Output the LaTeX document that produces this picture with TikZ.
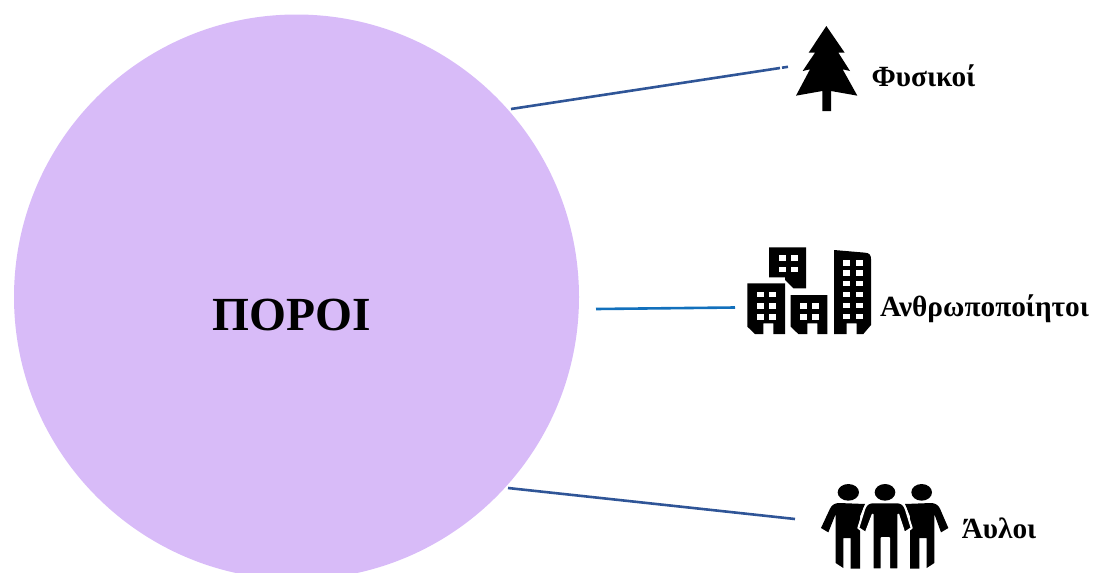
\documentclass[tikz,border=0pt]{standalone}
\usepackage{fontspec}
\setmainfont{Liberation Serif}
\definecolor{circfill}{HTML}{D8BBF8}
\definecolor{linkdark}{HTML}{2F5597}
\definecolor{linkblue}{HTML}{1270BC}
\tikzset{
  bubble/.style={circle,fill=circfill,minimum size=565pt,inner sep=0pt},
  title/.style={font=\bfseries\fontsize{47.5}{47.5}\selectfont,inner sep=0pt,anchor=center},
  tag/.style={font=\bfseries\fontsize{29.3}{29.3}\selectfont,inner sep=0pt,anchor=center},
  link/.style={line width=2.6pt,linkdark},
  icon/.style={fill=black,draw=none},
  pane/.style={fill=white,draw=none},
  zoomed/.style={x=0.33333pt,y=-0.33333pt},
  person/.style={fill=black,draw=white,line width=2pt,line join=round},
}
\newcommand{\panes}[2]{\foreach \py in {#2}{\foreach \px in {#1}{\fill[pane] (\px,\py) rectangle ++(21,17);}}}
\begin{document}
\begin{tikzpicture}[x=1pt,y=-1pt]
\useasboundingbox (0,0) rectangle (1093,573);
\clip (0,0) rectangle (1093,573);
\node[bubble] (poroi) at (296.5,297) {};
\node[title] (poroitext) at (291.5,315) {ΠΟΡΟΙ};
\node[tag] (fysikoi) at (923.5,76) {Φυσικοί};
\node[tag] (anthro) at (984.5,309) {Ανθρωποποίητοι};
\node[tag] (ayloi) at (999,528.5) {Άυλοι};
\coordinate (a1) at (511,109);
\coordinate (a2) at (780,68);
\coordinate (a3) at (782,67.7);
\coordinate (a4) at (788,66.8);
\coordinate (b1) at (596,309);
\coordinate (b2) at (735,307.5);
\coordinate (c1) at (508,488);
\coordinate (c2) at (795,519);
\draw[link] (a1) -- (a2);
\draw[link] (a3) -- (a4);
\draw[link,linkblue] (b1) -- (b2);
\draw[link] (c1) -- (c2);
% tree
\begin{scope}[shift={(760,10)},zoomed]
\fill[icon] (199,48) -- (254,128) -- (235,128) -- (270,183) -- (248,178) -- (292,257)
  -- (213,243) -- (213,303) -- (187,303) -- (187,243) -- (108,257) -- (150,178)
  -- (128,183) -- (165,128) -- (146,128) -- cycle;
\end{scope}
% buildings
\begin{scope}[shift={(730,235)},zoomed]
\fill[icon] (117,37) -- (228,37) -- (228,160) -- (190,160) -- (165,135) -- (165,127) -- (117,127) -- cycle;
\panes{146,182}{60,95}
\fill[icon] (52,145) -- (165,145) -- (165,297) -- (130,297) -- (130,265) -- (100,265) -- (100,297)
  -- (75,297) -- (52,275) -- cycle;
\panes{80,116}{170,204,237}
\fill[icon] (182,180) -- (292,180) -- (292,297) -- (262,297) -- (262,265) -- (232,265) -- (232,297)
  -- (205,297) -- (182,275) -- cycle;
\panes{210,247}{204,237}
\fill[icon] (312,45) -- (405,53) .. controls (418,54) and (423,60) .. (423,72) -- (423,270)
  -- (400,297) -- (380,297) -- (380,265) -- (350,265) -- (350,297) -- (312,297) -- cycle;
\panes{339,377}{75,105,137,170,203,236}
\end{scope}
% people
\begin{scope}[shift={(815,478)},zoomed]
\foreach \hx/\hr in {100/32,210/31,320/31} {\fill[icon] (\hx,43) ellipse [x radius=\hr,y radius=25];}
\fill[icon] (72,75) -- (150,78) -- (135,115) -- (135,272) -- (107,272) -- (107,180) -- (85,180)
  -- (85,270) -- (62,255) -- (62,108) -- (40,163) -- (18,150) -- (45,92)
  .. controls (50,81) and (60,75) .. (72,75) -- cycle;
\fill[icon] (348,75) -- (270,78) -- (285,115) -- (285,272) -- (313,272) -- (313,180) -- (335,180)
  -- (335,270) -- (358,255) -- (358,108) -- (378,163) -- (400,150) -- (375,92)
  .. controls (370,81) and (360,75) .. (348,75) -- cycle;
\draw[person] (172,73) -- (248,73) .. controls (262,73) and (268,82) .. (272,92)
  -- (290,150) -- (268,165) -- (250,110) -- (250,274) -- (222,274) -- (222,180) -- (200,180)
  -- (200,274) -- (173,274) -- (173,110) -- (152,165) -- (130,150) -- (148,92)
  .. controls (152,82) and (158,73) .. (172,73) -- cycle;
\end{scope}
\end{tikzpicture}
\end{document}
